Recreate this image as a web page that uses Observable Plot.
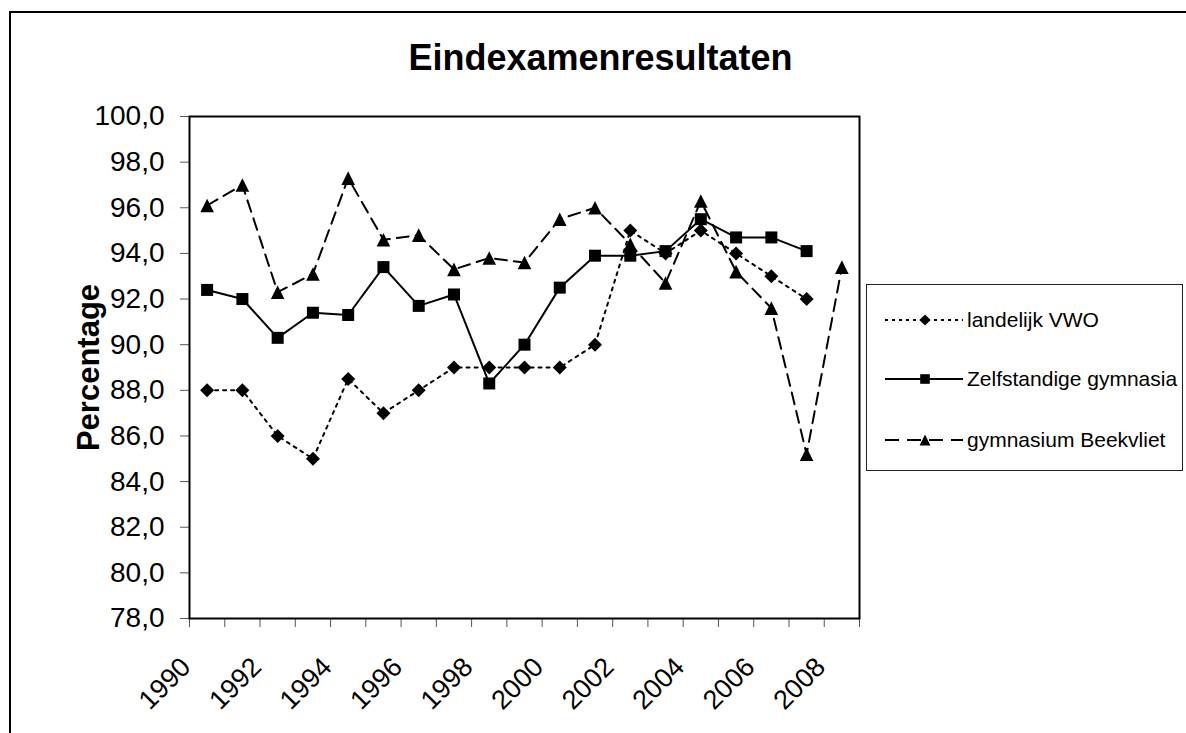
<!DOCTYPE html>
<html>
<head>
<meta charset="utf-8">
<script src="https://cdn.jsdelivr.net/npm/d3@7"></script>
<script src="https://cdn.jsdelivr.net/npm/@observablehq/plot@0.6"></script>
<style>
  body { margin: 0; background: #fff; font-family: "Liberation Sans", Arial, sans-serif; }
  #wrap { position: relative; width: 1186px; height: 733px; overflow: hidden; background: #fff; }
  #border { position: absolute; left: 9px; top: 11px; width: 1300px; height: 900px;
            border-left: 2px solid #000; border-top: 2px solid #000; }
  #chart { position: absolute; left: 0; top: 0; }
  #legend { position: absolute; left: 866px; top: 284px; width: 317px; height: 187px;
            border: 1.5px solid #222; background: #fff; box-sizing: border-box; }
  .item { position: absolute; left: 0; height: 30px; display: flex; align-items: center; }
  .item svg { margin-left: 17px; }
  .item span { font-size: 21px; margin-left: 3px; color: #000; white-space: nowrap; }
</style>
</head>
<body>
<div id="wrap">
  <div id="border"></div>
  <div id="chart"></div>
  <div id="legend"></div>
</div>
<script>
// ---- data ----
const title = "Eindexamenresultaten";
const yLabel = "Percentage";
const years = [1990, 1991, 1992, 1993, 1994, 1995, 1996, 1997, 1998, 1999,
               2000, 2001, 2002, 2003, 2004, 2005, 2006, 2007, 2008];
const labelYears = [1990, 1992, 1994, 1996, 1998, 2000, 2002, 2004, 2006, 2008];
const yTicks = [78, 80, 82, 84, 86, 88, 90, 92, 94, 96, 98, 100];
const seriesNames = ["landelijk VWO", "Zelfstandige gymnasia", "gymnasium Beekvliet"];
const landelijkVWO = [88.0, 88.0, 86.0, 85.0, 88.5, 87.0, 88.0, 89.0, 89.0, 89.0,
                      89.0, 90.0, 95.0, 94.0, 95.0, 94.0, 93.0, 92.0, null];
const zelfstandigeGymnasia = [92.4, 92.0, 90.3, 91.4, 91.3, 93.4, 91.7, 92.2, 88.3, 90.0,
                              92.5, 93.9, 93.9, 94.1, 95.5, 94.7, 94.7, 94.1, null];
const gymnasiumBeekvliet = [96.1, 97.0, 92.3, 93.1, 97.3, 94.6, 94.8, 93.3, 93.8, 93.6,
                            95.5, 96.0, 94.4, 92.7, 96.3, 93.2, 91.6, 85.2, 93.4];

// ---- symbols ----
const diamond = { draw(ctx, size) { const a = Math.sqrt(size) / 2;
  ctx.moveTo(0, -a); ctx.lineTo(a, 0); ctx.lineTo(0, a); ctx.lineTo(-a, 0); ctx.closePath(); } };
const square = { draw(ctx, size) { const a = Math.sqrt(size) / 2;
  ctx.rect(-a, -a, 2 * a, 2 * a); } };
const triangle = { draw(ctx, size) { const a = Math.sqrt(size) / 2;
  ctx.moveTo(0, -a); ctx.lineTo(a, a); ctx.lineTo(-a, a); ctx.closePath(); } };
const rFor = (halfSize) => Math.sqrt((2 * halfSize) ** 2 / Math.PI);

const styles = [
  { values: landelijkVWO, dash: "3,5", symbol: diamond, half: 7 },
  { values: zelfstandigeGymnasia, dash: null, symbol: square, half: 6 },
  { values: gymnasiumBeekvliet, dash: "12,7", symbol: triangle, half: 6.8 }
];

const rows = styles.map((s, k) => years.map((year, i) => ({ year, value: s.values[i], series: seriesNames[k] }))
  .filter(d => d.value != null));

const boundaries = years.map(y => y - 0.5).concat([years[years.length - 1] + 0.5]);
const fmt = d => d.toFixed(1).replace(".", ",");

const marks = [
  Plot.axisY({ ticks: yTicks, tickFormat: fmt, tickSize: 9, tickPadding: 16, fontSize: 28, label: null, stroke: "#555" }),
  Plot.axisX({ ticks: boundaries, tickSize: 9, tickFormat: () => "", label: null, stroke: "#555" }),
  Plot.text(labelYears, { x: d => d, text: d => String(d), frameAnchor: "bottom", rotate: -45,
    textAnchor: "end", lineAnchor: "middle", dx: -21, dy: 44, fontSize: 27, fill: "#000" }),
  Plot.text([title], { frameAnchor: "top", dx: 76, dy: -58.5, fontSize: 36, fontWeight: "bold", lineAnchor: "middle", fill: "#000" }),
  Plot.text([yLabel], { frameAnchor: "left", rotate: -90, dx: -100, textAnchor: "middle", fontSize: 31, fontWeight: "bold", lineAnchor: "middle", fill: "#000" })
];
styles.forEach((s, k) => {
  marks.push(Plot.line(rows[k], { x: "year", y: "value", stroke: "#000", strokeWidth: 2,
    strokeDasharray: s.dash || undefined, strokeLinejoin: "miter" }));
});
styles.forEach((s, k) => {
  marks.push(Plot.dot(rows[k], { x: "year", y: "value", symbol: s.symbol, r: rFor(s.half), fill: "#000", stroke: "none" }));
});
marks.push(Plot.frame({ stroke: "#000", strokeWidth: 2 }));

const chart = Plot.plot({
  width: 1186, height: 733,
  marginLeft: 189, marginRight: 327, marginTop: 116, marginBottom: 115,
  x: { domain: [1989.5, 2008.5] },
  y: { domain: [78, 100] },
  style: { fontFamily: "'Liberation Sans', Arial, sans-serif", color: "#000", background: "transparent", overflow: "visible" },
  marks
});
document.getElementById("chart").appendChild(chart);

// ---- legend ----
const legend = document.getElementById("legend");
const rowY = [20, 79, 140];
const ns = "http://www.w3.org/2000/svg";
seriesNames.forEach((name, k) => {
  const s = styles[k];
  const item = document.createElement("div");
  item.className = "item";
  item.style.top = rowY[k] + "px";
  const svg = document.createElementNS(ns, "svg");
  svg.setAttribute("width", 80); svg.setAttribute("height", 30);
  const line = document.createElementNS(ns, "line");
  line.setAttribute("x1", 1); line.setAttribute("x2", 79); line.setAttribute("y1", 15); line.setAttribute("y2", 15);
  line.setAttribute("stroke", "#000"); line.setAttribute("stroke-width", 2);
  if (s.dash) line.setAttribute("stroke-dasharray", s.dash === "3,5" ? "3,4" : "14,8");
  svg.appendChild(line);
  const p = d3.path();
  s.symbol.draw(p, (2 * s.half * 0.8) ** 2);
  const path = document.createElementNS(ns, "path");
  path.setAttribute("d", p.toString());
  path.setAttribute("transform", "translate(41,15)");
  path.setAttribute("fill", "#000");
  svg.appendChild(path);
  item.appendChild(svg);
  const span = document.createElement("span");
  span.textContent = name;
  item.appendChild(span);
  legend.appendChild(item);
});
</script>
</body>
</html>
